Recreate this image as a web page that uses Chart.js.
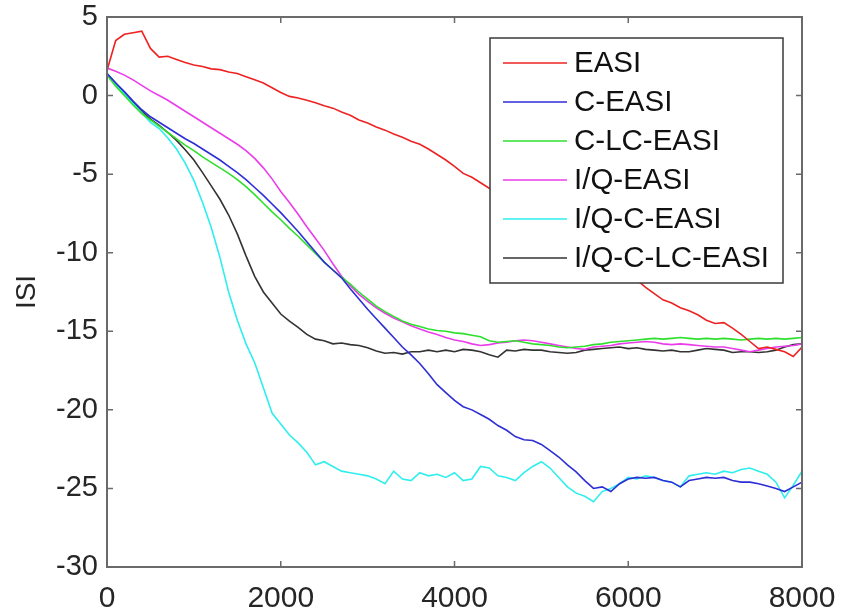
<!DOCTYPE html>
<html>
<head>
<meta charset="utf-8">
<script src="https://cdn.jsdelivr.net/npm/chart.js@4"></script>
<style>
  html, body { margin: 0; padding: 0; background: #fff; }
  canvas { display: block; }
</style>
</head>
<body>
<canvas id="grafica" width="841" height="613"></canvas>
<script>
// iterations, one reading every 100
const xs = []
for (let i = 0; i <= 80; i++) xs.push(i * 100)

const xTicks = [0, 2000, 4000, 6000, 8000]
const yTicks = [5, 0, -5, -10, -15, -20, -25, -30]

const easi = [
  1.6, 3.5, 3.9, 4.0, 4.1, 3.0, 2.45, 2.5, 2.3, 2.1,
  1.95, 1.85, 1.7, 1.65, 1.5, 1.4, 1.2, 1.0, 0.8, 0.5,
  0.2, -0.05, -0.15, -0.3, -0.45, -0.65, -0.8, -1.05, -1.25, -1.55,
  -1.75, -2.0, -2.2, -2.45, -2.65, -2.9, -3.1, -3.4, -3.75, -4.1,
  -4.5, -4.95, -5.2, -5.55, -5.9, -6.25, -6.6, -6.95, -7.3, -7.65,
  -8.0, -8.35, -8.7, -9.0, -9.35, -9.7, -10.05, -10.4, -10.75, -11.1,
  -11.45, -11.75, -12.2, -12.6, -13.0, -13.2, -13.5, -13.7, -13.95, -14.3,
  -14.5, -14.45, -14.8, -15.2, -15.65, -16.1, -16.0, -16.15, -16.3, -16.6,
  -16.0
]

const cEasi = [
  1.4, 0.8, 0.25, -0.35, -0.9, -1.35, -1.7, -2.05, -2.4, -2.75,
  -3.05, -3.4, -3.75, -4.1, -4.5, -4.9, -5.35, -5.85, -6.35, -6.9,
  -7.45, -8.05, -8.65, -9.3, -9.95, -10.6, -11.1, -11.6, -12.3, -12.95,
  -13.6, -14.2, -14.8, -15.4, -16.0, -16.5, -17.05, -17.7, -18.4, -18.9,
  -19.4, -19.8, -20.0, -20.3, -20.6, -21.0, -21.3, -21.7, -21.9, -21.95,
  -22.2, -22.6, -23.0, -23.5, -23.95, -24.5, -25.0, -24.9, -25.2, -24.7,
  -24.4, -24.3, -24.35, -24.3, -24.5, -24.6, -24.9, -24.5, -24.4, -24.3,
  -24.35, -24.3, -24.5, -24.6, -24.6, -24.7, -24.85, -25.0, -25.2, -24.9,
  -24.6
]

const cLcEasi = [
  1.3, 0.6, 0.0, -0.6, -1.15, -1.55, -1.95, -2.35, -2.75, -3.15,
  -3.5, -3.9, -4.25, -4.6, -4.95, -5.35, -5.8, -6.3, -6.85, -7.4,
  -7.9, -8.45, -8.95, -9.5, -10.05, -10.6, -11.1, -11.55, -12.0, -12.5,
  -12.95, -13.4, -13.75, -14.05, -14.35, -14.55, -14.7, -14.85, -14.95, -15.0,
  -15.1, -15.15, -15.25, -15.35, -15.6, -15.7, -15.65, -15.6, -15.7, -15.8,
  -15.85, -15.9, -16.0, -16.05, -16.0, -15.95, -15.85, -15.8, -15.7, -15.65,
  -15.6, -15.55, -15.5, -15.45, -15.5, -15.45, -15.4, -15.45, -15.5, -15.45,
  -15.5, -15.45, -15.5, -15.55, -15.5, -15.45, -15.5, -15.45, -15.5, -15.45,
  -15.4
]

const iqEasi = [
  1.75, 1.55, 1.3, 1.0, 0.65, 0.3, 0.0, -0.3, -0.65, -1.0,
  -1.35, -1.7, -2.05, -2.4, -2.75, -3.1, -3.5, -4.0, -4.6, -5.3,
  -6.1, -6.8, -7.55, -8.35, -9.1, -9.85, -10.7, -11.5, -12.1, -12.65,
  -13.1, -13.5, -13.85, -14.15, -14.4, -14.65, -14.85, -15.05, -15.2, -15.4,
  -15.55, -15.65, -15.8, -15.9, -15.85, -15.75, -15.7, -15.6, -15.55, -15.6,
  -15.7, -15.8, -15.9, -16.0, -16.1, -16.15, -16.0, -15.95, -15.9, -15.8,
  -15.75, -15.7, -15.65, -15.7, -15.8, -15.85, -15.8, -15.85, -15.9, -15.95,
  -16.0, -16.0, -16.1, -16.2, -16.3, -16.2, -16.1, -16.0, -15.95, -15.9,
  -15.8
]

const iqCEasi = [
  1.4, 0.7, 0.1, -0.5, -1.1, -1.7, -2.1, -2.7, -3.4, -4.3,
  -5.4, -6.8, -8.4, -10.3, -12.5, -14.3, -15.8, -17.0, -18.6, -20.2,
  -20.9, -21.6, -22.1, -22.7, -23.5, -23.3, -23.6, -23.9, -24.0, -24.1,
  -24.2, -24.4, -24.7, -23.9, -24.4, -24.5, -24.0, -24.2, -24.1, -24.3,
  -24.0, -24.5, -24.4, -23.6, -23.7, -24.2, -24.3, -24.5, -24.0, -23.6,
  -23.3, -23.7, -24.3, -24.9, -25.3, -25.5, -25.85, -25.2, -25.0, -24.7,
  -24.3, -24.4, -24.2, -24.3, -24.5, -24.6, -24.9, -24.2, -24.1, -24.0,
  -24.1, -23.9, -24.0, -23.8, -23.7, -23.9, -24.1, -24.6, -25.6, -24.8,
  -23.9
]

const iqCLcEasi = [
  1.4, 0.8, 0.2, -0.4, -1.0, -1.5, -1.9, -2.35, -2.85, -3.45,
  -4.1, -4.9, -5.75, -6.6, -7.6, -8.8, -10.2, -11.5, -12.5, -13.2,
  -13.9, -14.35, -14.75, -15.2, -15.5, -15.6, -15.8, -15.75, -15.85, -15.9,
  -16.05, -16.25, -16.4, -16.35, -16.45, -16.3, -16.3, -16.2, -16.3, -16.2,
  -16.3, -16.15, -16.2, -16.3, -16.5, -16.65, -16.2, -16.25, -16.15, -16.2,
  -16.2, -16.3, -16.35, -16.4, -16.35, -16.2, -16.15, -16.1, -16.05, -16.0,
  -16.1, -16.05, -16.15, -16.2, -16.25, -16.2, -16.3, -16.3, -16.2, -16.1,
  -16.15, -16.2, -16.35, -16.3, -16.3, -16.35, -16.3, -16.2, -16.0, -15.85,
  -15.8
]

const seriesNames = ['EASI', 'C-EASI', 'C-LC-EASI', 'I/Q-EASI', 'I/Q-C-EASI', 'I/Q-C-LC-EASI']
const seriesColors = ['#ee2222', '#2e2ed6', '#2ee02e', '#ea3cea', '#2eeeee', '#333333']
const seriesData = [easi, cEasi, cLcEasi, iqEasi, iqCEasi, iqCLcEasi]

const textColor = '#262626'
const frameColor = '#6a6a6a'

// box around the plot with ticks pointing inwards, like matlab
const marcoEjes = {
  id: 'marcoEjes',
  afterDatasetsDraw(chart) {
    const ctx = chart.ctx
    const a = chart.chartArea
    const sx = chart.scales.x
    const sy = chart.scales.y
    const tl = 6
    ctx.save()
    ctx.strokeStyle = frameColor
    ctx.lineWidth = 2
    ctx.strokeRect(a.left, a.top, a.right - a.left, a.bottom - a.top)
    ctx.lineWidth = 1.5
    ctx.beginPath()
    xTicks.forEach(v => {
      const px = sx.getPixelForValue(v)
      ctx.moveTo(px, a.bottom); ctx.lineTo(px, a.bottom - tl)
      ctx.moveTo(px, a.top); ctx.lineTo(px, a.top + tl)
    })
    yTicks.forEach(v => {
      const py = sy.getPixelForValue(v)
      ctx.moveTo(a.left, py); ctx.lineTo(a.left + tl, py)
      ctx.moveTo(a.right, py); ctx.lineTo(a.right - tl, py)
    })
    ctx.stroke()
    ctx.restore()
  }
}

// legend box drawn over the lines (north east corner)
const leyenda = {
  id: 'leyenda',
  afterDraw(chart) {
    const ctx = chart.ctx
    const a = chart.chartArea
    const left = a.right - 312
    const top = a.top + 21
    const w = 293
    const h = 245
    ctx.save()
    ctx.fillStyle = '#fff'
    ctx.fillRect(left, top, w, h)
    ctx.strokeStyle = '#3a3a3a'
    ctx.lineWidth = 1.5
    ctx.strokeRect(left, top, w, h)
    ctx.font = '29.5px "Liberation Sans", Arial, sans-serif'
    ctx.textBaseline = 'middle'
    ctx.textAlign = 'left'
    chart.data.datasets.forEach((ds, i) => {
      const y = top + 25 + i * 39
      ctx.strokeStyle = ds.borderColor
      ctx.lineWidth = 1.5
      ctx.beginPath()
      ctx.moveTo(left + 13, y)
      ctx.lineTo(left + 77, y)
      ctx.stroke()
      ctx.fillStyle = '#111'
      ctx.fillText(ds.label, left + 84, y + 1)
    })
    ctx.restore()
  }
}

Chart.defaults.font.family = '"Liberation Sans", Arial, sans-serif'
Chart.defaults.font.size = 28
Chart.defaults.color = textColor

const ctx = document.getElementById('grafica').getContext('2d')
const chart = new Chart(ctx, {
  type: 'line',
  data: {
    datasets: seriesNames.map((name, k) => ({
      label: name,
      data: xs.map((x, i) => ({ x: x, y: seriesData[k][i] })),
      borderColor: seriesColors[k],
      backgroundColor: seriesColors[k],
      borderWidth: 1.6,
      pointRadius: 0,
      tension: 0,
      fill: false,
    })),
  },
  options: {
    responsive: false,
    animation: false,
    layout: { padding: { top: 17, right: 39, left: 0, bottom: 0 } },
    plugins: {
      legend: { display: false },
      tooltip: { enabled: false },
    },
    scales: {
      x: {
        type: 'linear',
        min: 0,
        max: 8000,
        grid: { display: false, drawTicks: false },
        border: { display: false },
        ticks: {
          stepSize: 2000,
          padding: 14,
          maxRotation: 0,
          color: textColor,
          font: { size: 30 },
          callback: v => String(v),
        },
        afterFit(scale) {
          scale.height = 46
          scale.paddingLeft = 0
          scale.paddingRight = 0
        },
      },
      y: {
        min: -30,
        max: 5,
        grid: { display: false, drawTicks: false },
        border: { display: false },
        ticks: {
          stepSize: 5,
          padding: 9,
          color: textColor,
          font: { size: 29 },
          callback: v => String(v),
        },
        title: {
          display: true,
          text: 'ISI',
          color: textColor,
          font: { size: 28 },
          padding: { top: 10, bottom: 0 },
        },
        afterFit(scale) {
          scale.width = 107
          scale.paddingTop = 0
          scale.paddingBottom = 0
        },
      },
    },
  },
  plugins: [marcoEjes, leyenda],
})
</script>
</body>
</html>
